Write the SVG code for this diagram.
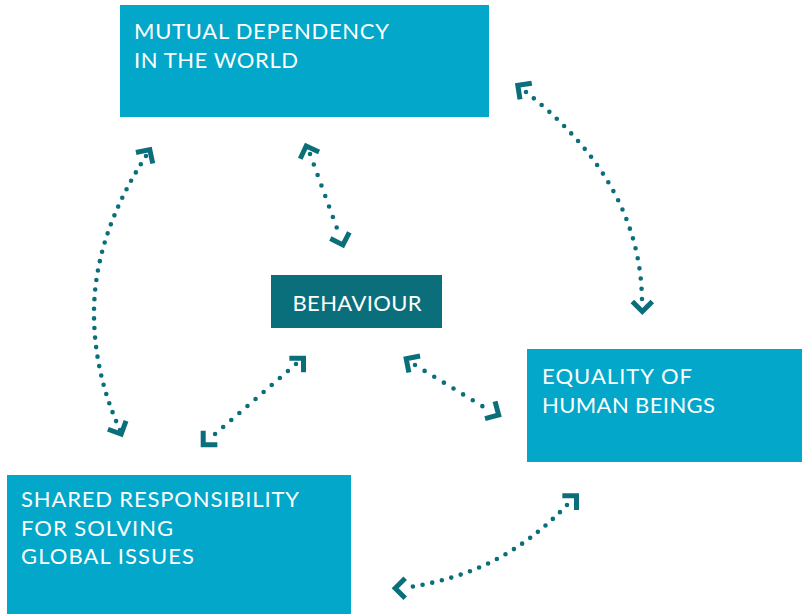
<svg xmlns="http://www.w3.org/2000/svg" xmlns:xlink="http://www.w3.org/1999/xlink" width="802" height="614" viewBox="0 0 802 614">
<style>
.box{fill:#02a7c9}
.dark{fill:#0b6f7b}
.lbl{font-family:Lato,"Liberation Sans",sans-serif;font-size:22px;fill:#ffffff}
.dots{fill:none;stroke:#0b6f7b;stroke-width:4.6;stroke-linecap:round;stroke-dasharray:0 1}
.chev{fill:none;stroke:#0b6f7b;stroke-width:5;stroke-linejoin:miter;stroke-linecap:butt}
</style>
<defs>
<path id="chev" class="chev" d="M-10,-10 L0,0 L-10,10"/>
</defs>
<rect width="802" height="614" fill="#ffffff"/>
<g id="n-mutual">
<rect class="box" x="120" y="5" width="369" height="112"/>
<text class="lbl" x="134" y="39" textLength="255" lengthAdjust="spacing">MUTUAL DEPENDENCY</text>
<text class="lbl" x="134" y="68" textLength="164" lengthAdjust="spacing">IN THE WORLD</text>
</g>
<g id="n-behaviour">
<rect class="dark" x="271" y="275" width="171" height="53"/>
<text class="lbl" x="292.5" y="311" textLength="129" lengthAdjust="spacing">BEHAVIOUR</text>
</g>
<g id="n-equality">
<rect class="box" x="527" y="349" width="275" height="113"/>
<text class="lbl" x="542" y="384" textLength="150" lengthAdjust="spacing">EQUALITY OF</text>
<text class="lbl" x="542" y="413" textLength="173" lengthAdjust="spacing">HUMAN BEINGS</text>
</g>
<g id="n-shared">
<rect class="box" x="7" y="475" width="344" height="139"/>
<text class="lbl" x="21" y="507" textLength="278" lengthAdjust="spacing">SHARED RESPONSIBILITY</text>
<text class="lbl" x="21" y="536" textLength="152" lengthAdjust="spacing">FOR SOLVING</text>
<text class="lbl" x="21" y="564" textLength="173" lengthAdjust="spacing">GLOBAL ISSUES</text>
</g>
<g id="connectors">
<path class="dots" pathLength="30" d="M146,156 Q94,236 94,313 Q94,373 120,430"/>
<use xlink:href="#chev" transform="translate(149.8,149.6) rotate(-57)"/>
<use xlink:href="#chev" transform="translate(121.2,434.1) rotate(65)"/>
<path class="dots" pathLength="8" d="M310,154 L340.5,238"/>
<use xlink:href="#chev" transform="translate(306.2,146) rotate(-110)"/>
<use xlink:href="#chev" transform="translate(342.9,245) rotate(72)"/>
<path class="dots" pathLength="24" d="M526,92 C580,135 640,200 642,299"/>
<use xlink:href="#chev" transform="translate(517.8,85.4) rotate(-144)"/>
<use xlink:href="#chev" transform="translate(642.3,311.5) rotate(90)"/>
<path class="dots" pathLength="11" d="M296,364 L207,441"/>
<use xlink:href="#chev" transform="translate(303.5,358.2) rotate(-45)"/>
<use xlink:href="#chev" transform="translate(203.2,444.8) rotate(135)"/>
<path class="dots" pathLength="8" d="M415,365 L492,412"/>
<use xlink:href="#chev" transform="translate(406.2,358.7) rotate(-146)"/>
<use xlink:href="#chev" transform="translate(498.7,415) rotate(30)"/>
<path class="dots" pathLength="19" d="M567,505 C519.6,554.3 469.1,578.7 403,588"/>
<use xlink:href="#chev" transform="translate(576.5,495.8) rotate(-45)"/>
<use xlink:href="#chev" transform="translate(395.2,588.3) rotate(180)"/>
</g>
</svg>
